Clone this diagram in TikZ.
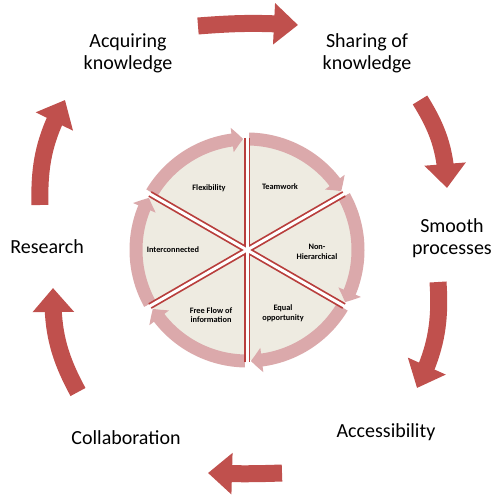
\documentclass[tikz,border=0pt]{standalone}
\usepackage{fontspec}
\setmainfont{Carlito}
\usetikzlibrary{arrows.meta, bending, calc}
\definecolor{loopred}{HTML}{C0504D}
\definecolor{ringpink}{HTML}{DBA9AB}
\definecolor{wedgefill}{HTML}{EEEBE1}
\definecolor{divider}{HTML}{B83E3C}

\begin{document}
\begin{tikzpicture}[
  x=1pt, y=1pt,
  outer/.style={align=center, font=\fontsize{20}{22}\selectfont},
  inner/.style={align=center, font=\fontsize{8.3}{9.5}\selectfont\bfseries},
  bigarr/.style={-{Triangle[width=40pt, length=24pt]}, line width=17pt, loopred},
  ringarr/.style={-{Triangle[width=24pt, length=11pt, bend]}, line width=13pt, ringpink},
]
\useasboundingbox (0,0) rectangle (500,496);

% centre disc
\coordinate (C) at (247,246);
\fill[wedgefill] (C) circle[radius=110];

% ring of small arrows
\foreach \a in {150,90,30,-30,-90,-150}
  \draw[ringarr] ([shift={(\a-1:111)}]C) arc[start angle=\a-1, end angle=\a-58, radius=111];

% wedge dividers
\foreach \a in {150,90,30,-30,-90,-150}
  \draw[divider, line width=6.5pt] (C) -- ++(\a:112);
\foreach \a in {150,90,30,-30,-90,-150}
  \draw[white, line width=3pt] (C) -- ++(\a:121);

% wedge labels
\node[inner] (flex) at (209,308) {Flexibility};
\node[inner] (team) at (280,309) {Teamwork};
\node[inner] (nonh) at (317,244) {Non-\\Hierarchical};
\node[inner] (equal) at (283,183) {Equal\\opportunity};
\node[inner] (free) at (211,181) {Free Flow of\\information};
\node[inner] (inter) at (173,246) {Interconnected};

% outer labels
\node[outer] (acq) at (128,443) {Acquiring\\knowledge};
\node[outer] (share) at (367,443) {Sharing of\\knowledge};
\node[outer] (smooth) at (452,258) {Smooth\\processes};
\node[outer] (access) at (386,64) {Accessibility};
\node[outer] (collab) at (126,58) {Collaboration};
\node[outer] (res) at (47,249) {Research};

% big arrows
\coordinate (a1s) at (198,470); \coordinate (a1e) at (298,471);
\coordinate (a2s) at (420,396); \coordinate (a2e) at (447,308);
\coordinate (a3s) at (438,214); \coordinate (a3e) at (417,108);
\coordinate (a4s) at (282,23);  \coordinate (a4e) at (208,23);
\coordinate (a5s) at (78,104);  \coordinate (a5e) at (53,208);
\coordinate (a6s) at (40,291);  \coordinate (a6e) at (65,396);

\draw[bigarr] (a1s) to[bend left=4] (a1e);
\draw[bigarr] (a2s) to[bend left=15] (a2e);
\draw[bigarr] (a3s) to[bend left=15] (a3e);
\draw[bigarr] (a4s) to[bend left=2] (a4e);
\draw[bigarr] (a5s) to[bend left=15] (a5e);
\draw[bigarr] (a6s) to[bend left=15] (a6e);

\end{tikzpicture}
\end{document}
